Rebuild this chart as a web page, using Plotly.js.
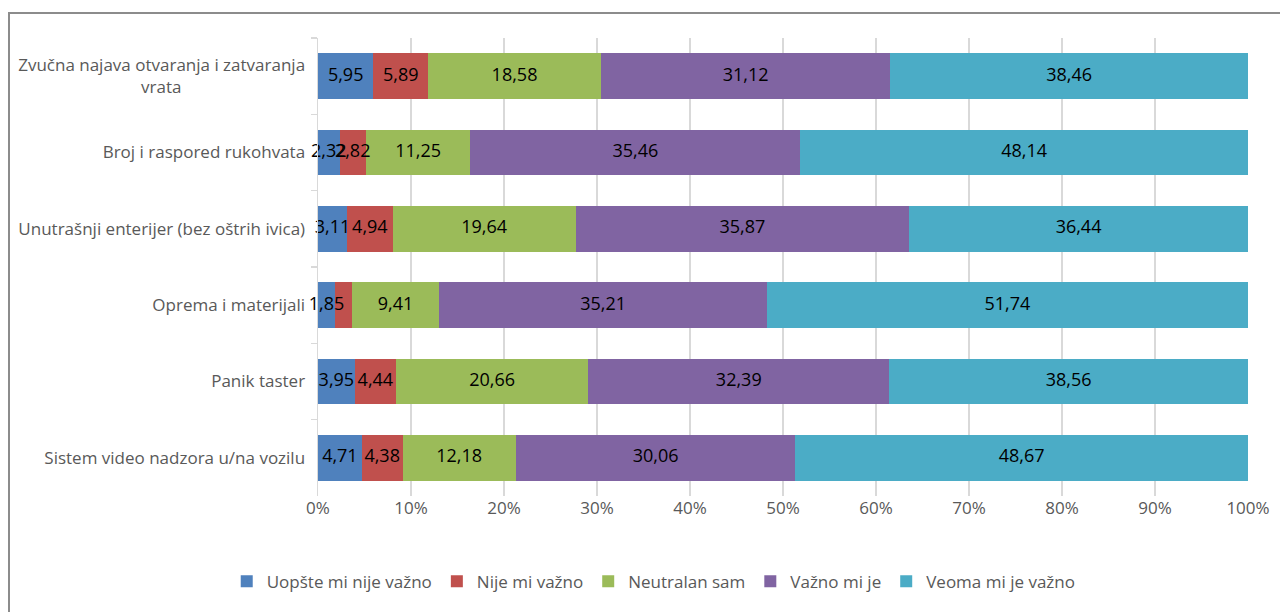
<!DOCTYPE html>
<html>
<head>
<meta charset="utf-8">
<script src="https://cdn.plot.ly/plotly-3.0.1.min.js"></script>
<style>
html,body{margin:0;padding:0;background:#fff;overflow:hidden;width:1280px;height:612px;}
#chart{position:absolute;left:0;top:0;width:1280px;height:612px;}
.fl{position:absolute;background:#8c8c8c;z-index:5;pointer-events:none;}
</style>
</head>
<body>
<div id="chart"></div>
<div class="fl" style="left:8px;top:12px;width:1272px;height:2px;"></div>
<div class="fl" style="left:8px;top:12px;width:2px;height:600px;"></div>
<script>
const NB = "\u00A0";
const categories = [
  "Zvučna najava otvaranja i zatvaranja<br>vrata" + NB.repeat(28),
  "Broj i raspored rukohvata",
  "Unutrašnji enterijer (bez oštrih ivica)",
  "Oprema i materijali",
  "Panik taster",
  "Sistem video nadzora u/na vozilu"
];
const seriesNames = ["Uopšte mi nije važno", "Nije mi važno", "Neutralan sam", "Važno mi je", "Veoma mi je važno"];
const uopste = [5.95, 2.32, 3.11, 1.85, 3.95, 4.71];
const nije   = [5.89, 2.82, 4.94, 1.79, 4.44, 4.38];
const neutr  = [18.58, 11.25, 19.64, 9.41, 20.66, 12.18];
const vazno  = [31.12, 35.46, 35.87, 35.21, 32.39, 30.06];
const veoma  = [38.46, 48.14, 36.44, 51.74, 38.56, 48.67];
// data labels not shown in the reference: [series index, category index]
const hiddenLabels = [[1, 3]];
const colors = ["#4F81BD", "#C0504D", "#9BBB59", "#8064A2", "#4BACC6"];
const xTickVals = [0,10,20,30,40,50,60,70,80,90,100];
const xTickText = ["0%","10%","20%","30%","40%","50%","60%","70%","80%","90%","100%"];

const FONT = 'Open Sans, Noto Sans, sans-serif';
const series = [uopste, nije, neutr, vazno, veoma];
const fmt = v => v.toFixed(2).replace('.', ',');

const traces = series.map((vals, i) => ({
  type: 'bar',
  orientation: 'h',
  name: seriesNames[i],
  y: categories,
  x: vals,
  marker: {color: colors[i], line: {width: 0}},
  hoverinfo: 'x+name'
}));

// data labels drawn on top of all bars, at each segment's middle
const lx = [], ly = [], lt = [];
const cum = categories.map(() => 0);
series.forEach((vals, i) => {
  vals.forEach((v, j) => {
    const hidden = hiddenLabels.some(h => h[0] === i && h[1] === j);
    if (!hidden) {
      lx.push(cum[j] + v / 2);
      ly.push(categories[j]);
      lt.push(fmt(v));
    }
    cum[j] += v;
  });
});
traces.push({
  type: 'scatter', mode: 'text', x: lx, y: ly, text: lt,
  textposition: 'middle center',
  textfont: {family: FONT, size: 18, color: '#000'},
  showlegend: false, hoverinfo: 'skip', cliponaxis: false
});

const layout = {
  width: 1280, height: 612,
  margin: {l: 318, r: 32, t: 38, b: 114},
  paper_bgcolor: 'rgba(0,0,0,0)',
  plot_bgcolor: 'rgba(0,0,0,0)',
  barmode: 'stack',
  bargap: 0.4,
  font: {family: FONT, size: 17, color: '#595959'},
  xaxis: {
    range: [0, 100], tickvals: xTickVals, ticktext: xTickText,
    showgrid: true, gridcolor: '#d9d9d9', gridwidth: 1.5,
    zeroline: false, showline: false, ticks: '',
    tickfont: {family: FONT, size: 17, color: '#595959'}, fixedrange: true
  },
  yaxis: {
    autorange: 'reversed', type: 'category',
    showline: true, linecolor: '#d9d9d9', linewidth: 1.5,
    ticks: 'outside', tickson: 'boundaries', ticklen: 6, tickcolor: '#d9d9d9', tickwidth: 1.5,
    showgrid: false, zeroline: false,
    tickfont: {family: FONT, size: 17, color: '#595959'}, ticklabelstandoff: 8
  },
  showlegend: true,
  legend: {
    orientation: 'h', x: 0.361, xanchor: 'center', y: -0.187, yanchor: 'middle',
    font: {family: FONT, size: 17, color: '#595959'}, itemwidth: 30, traceorder: 'normal'
  }
};
Plotly.newPlot('chart', traces, layout, {displayModeBar: false, staticPlot: true});
</script>
</body>
</html>
